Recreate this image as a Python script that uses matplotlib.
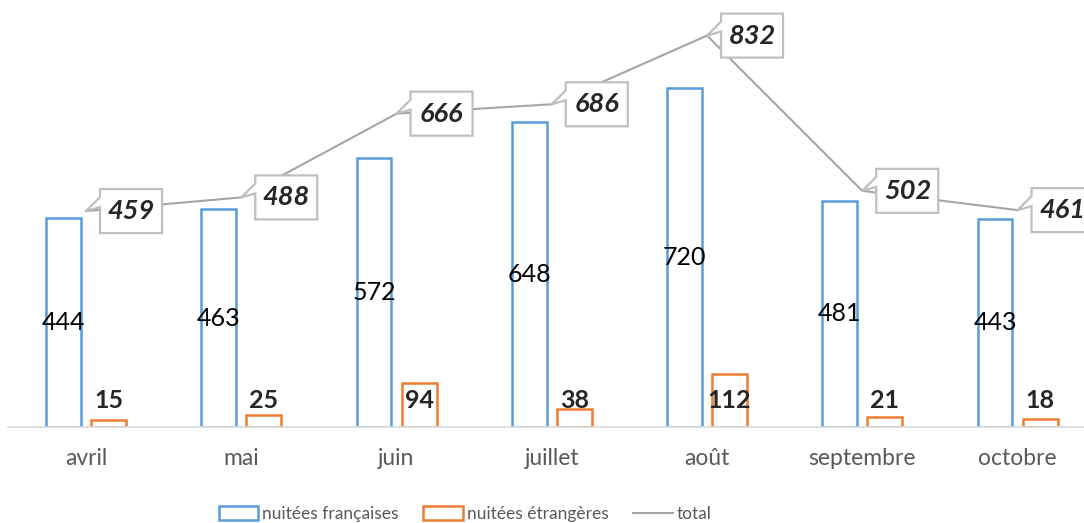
import matplotlib.pyplot as plt
import matplotlib.transforms as mtransforms
from matplotlib.patches import Polygon, Patch
from matplotlib.lines import Line2D
import numpy as np

plt.rcParams['font.family'] = ['Lato', 'DejaVu Sans']

# Data
mois = ['avril', 'mai', 'juin', 'juillet', 'août', 'septembre', 'octobre']
francaises = [444, 463, 572, 648, 720, 481, 443]
etrangeres = [15, 25, 94, 38, 112, 21, 18]
total = [459, 488, 666, 686, 832, 502, 461]

blue = '#5B9BD5'
orange = '#ED7D31'
grey = '#A5A5A5'
txt = '#262626'

W, H = 1084, 523
fig = plt.figure(figsize=(W / 100, H / 100), dpi=100)
# plot area deliberately runs a bit past the right edge, like the original
ax = fig.add_axes([8.4 / W, (H - 427) / H, 1086.75 / W, 414 / H])

x = np.arange(len(mois))
bw = 0.225
off = 0.145

ax.bar(x - off, francaises, bw, facecolor='white', edgecolor=blue, linewidth=1.8, zorder=2)
ax.bar(x + off, etrangeres, bw, facecolor='white', edgecolor=orange, linewidth=1.8, zorder=2)
ax.plot(x, total, color=grey, linewidth=1.5, zorder=3)

for xi, v in zip(x, francaises):
    ax.text(xi - off, v / 2, str(v), ha='center', va='center', fontsize=18, color='black', zorder=4)
for xi, v in zip(x, etrangeres):
    ax.text(xi + off, max(v / 2, 57), str(v), ha='center', va='center', fontsize=18,
            fontweight='bold', color=txt, zorder=4)

# callout boxes for the total line (offsets in pixels -> inches)
shape = np.array([(14, 22), (76, 22), (76, -22), (14, -22), (14, 4), (0, 0), (14, 14)]) / 100
for xi, v in zip(x, total):
    tr = fig.dpi_scale_trans + mtransforms.ScaledTranslation(xi, v, ax.transData)
    ax.add_patch(Polygon(shape, closed=True, facecolor='white', edgecolor='#BFBFBF',
                         linewidth=1.6, transform=tr, clip_on=False, zorder=5))
    ax.text(0.45, 0, str(v), transform=tr, ha='center', va='center', fontsize=19.5,
            fontweight='bold', fontstyle='italic', color=txt, zorder=6, clip_on=False)

ax.set_xlim(-0.5, len(mois) - 0.5)
ax.set_ylim(0, 880)
ax.set_xticks(x)
ax.set_xticklabels(mois, fontsize=16.5, color='#595959')
ax.tick_params(axis='x', length=0, pad=15)
ax.set_yticks([])
for s in ['top', 'left', 'right']:
    ax.spines[s].set_visible(False)
ax.spines['bottom'].set_color('#D9D9D9')
ax.spines['bottom'].set_linewidth(1.2)

handles = [Patch(facecolor='white', edgecolor=blue, linewidth=1.8),
           Patch(facecolor='white', edgecolor=orange, linewidth=1.8),
           Line2D([], [], color=grey, linewidth=1.5)]
labels = ['nuitées françaises', 'nuitées étrangères', 'total']
leg = fig.legend(handles, labels, loc='center', bbox_to_anchor=(465 / W, 1 - 514 / H),
                 ncol=3, frameon=False, fontsize=12.5, handlelength=2.3, handleheight=0.8,
                 handletextpad=0.22, columnspacing=1.4)
for t in leg.get_texts():
    t.set_color('#595959')

fig.savefig('out.png', dpi=100)
